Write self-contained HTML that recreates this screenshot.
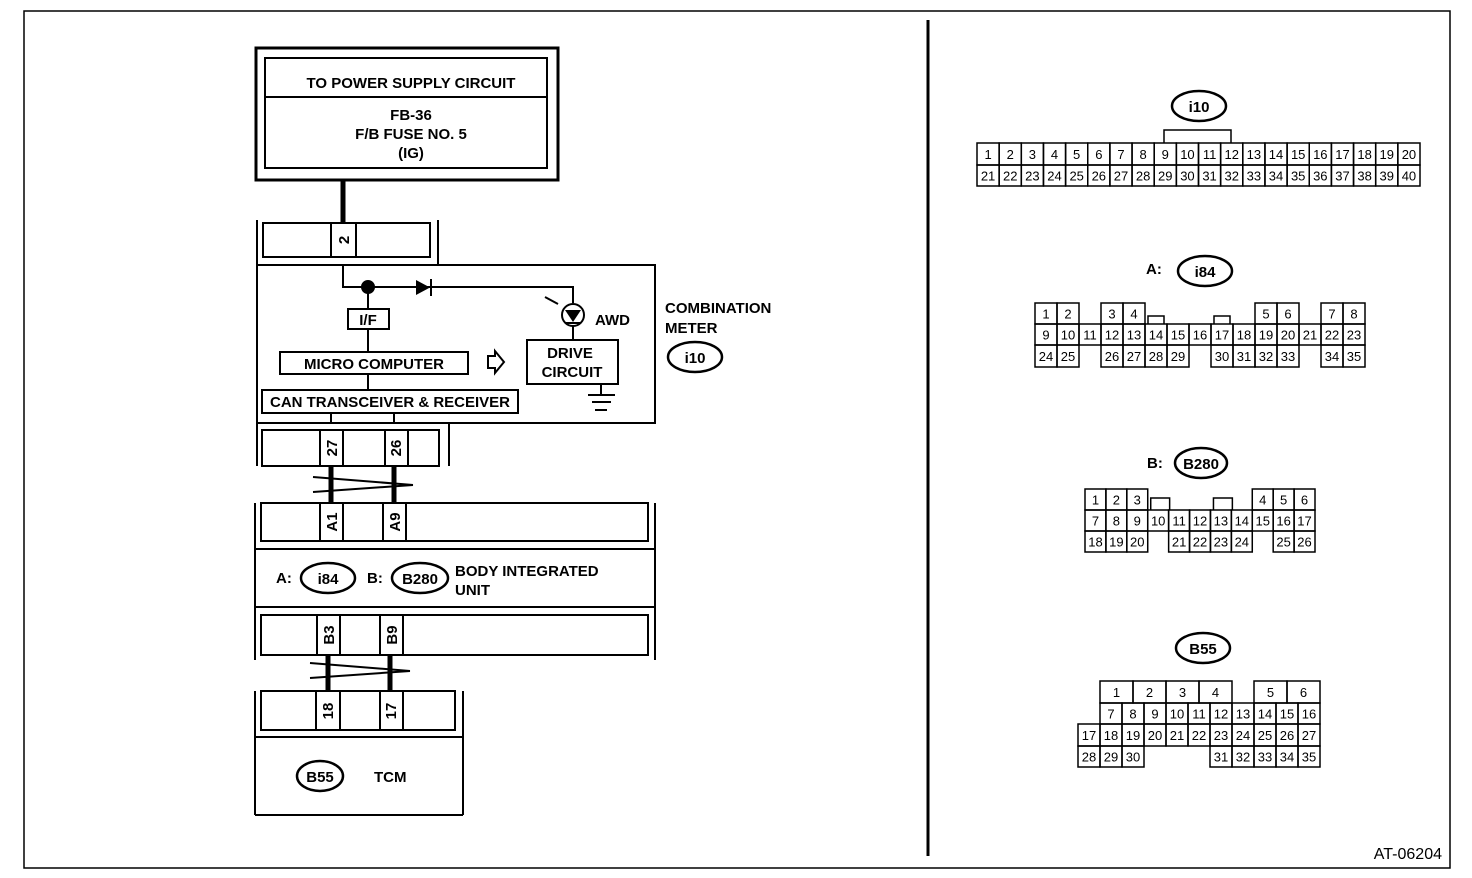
<!DOCTYPE html>
<html><head><meta charset="utf-8"><style>
html,body{margin:0;padding:0;background:#fff}
svg{display:block}
text{font-family:"Liberation Sans",Arial,sans-serif;fill:#000}
.b{font-weight:bold;font-size:15px}
.n{font-size:13px}
</style></head><body>
<svg id="s" width="1472" height="878" viewBox="0 0 1472 878" xmlns="http://www.w3.org/2000/svg" fill="none" stroke="#000" stroke-width="2">
<rect x="24" y="11" width="1426" height="857" stroke-width="1.5"/>
<line x1="928" y1="20" x2="928" y2="856" stroke-width="3"/>

<!-- power box -->
<rect x="256" y="48" width="302" height="132" stroke-width="3"/>
<rect x="265" y="58" width="282" height="110"/>
<line x1="265" y1="97" x2="547" y2="97"/>
<g stroke="none" text-anchor="middle" class="b">
<text x="411" y="88" class="b">TO POWER SUPPLY CIRCUIT</text>
<text x="411" y="120" class="b">FB-36</text>
<text x="411" y="139" class="b">F/B FUSE NO. 5</text>
<text x="411" y="158" class="b">(IG)</text>
</g>
<line x1="343" y1="180" x2="343" y2="223" stroke-width="5"/>

<!-- connector 2 -->
<line x1="257" y1="220" x2="257" y2="265"/>
<line x1="438" y1="220" x2="438" y2="265"/>
<rect x="263" y="223" width="167" height="34"/>
<line x1="331" y1="223" x2="331" y2="257"/>
<line x1="356" y1="223" x2="356" y2="257"/>
<text transform="translate(349,240) rotate(-90)" text-anchor="middle" class="b" stroke="none" font-size="13">2</text>

<!-- meter box -->
<rect x="257" y="265" width="398" height="158"/>
<polyline points="343,265 343,287 573,287 573,303"/>
<circle cx="368" cy="287" r="6" fill="#000"/>
<polygon points="416,280 416,295 430,287.5" fill="#000" stroke="none"/>
<line x1="431" y1="279" x2="431" y2="296"/>
<circle cx="573" cy="315" r="11"/>
<polygon points="565,310 581,310 573,322" fill="#000" stroke="none"/>
<line x1="565" y1="323" x2="581" y2="323"/>
<line x1="545" y1="297" x2="558" y2="304" stroke-width="2"/>
<line x1="573" y1="326" x2="573" y2="340"/>
<text x="595" y="325" class="b" font-size="14" stroke="none">AWD</text>
<line x1="368" y1="287" x2="368" y2="309"/>
<rect x="348" y="309" width="41" height="20"/>
<text x="368" y="325" class="b" font-size="14" text-anchor="middle" stroke="none">I/F</text>
<line x1="368" y1="329" x2="368" y2="352"/>
<rect x="280" y="352" width="188" height="22"/>
<text x="374" y="369" class="b" text-anchor="middle" stroke="none">MICRO COMPUTER</text>
<line x1="368" y1="374" x2="368" y2="390"/>
<rect x="262" y="390" width="256" height="23"/>
<text x="390" y="407" class="b" font-size="14.5" text-anchor="middle" stroke="none">CAN TRANSCEIVER &amp; RECEIVER</text>
<line x1="331" y1="413" x2="331" y2="423"/>
<line x1="394" y1="413" x2="394" y2="423"/>
<polygon points="488,356 495,356 495,351 504,362 495,373 495,368 488,368" stroke-width="2"/>
<rect x="527" y="340" width="91" height="44"/>
<text x="570" y="358" class="b" text-anchor="middle" stroke="none">DRIVE</text>
<text x="572" y="377" class="b" text-anchor="middle" stroke="none">CIRCUIT</text>
<line x1="601" y1="384" x2="601" y2="395"/>
<line x1="588" y1="395" x2="615" y2="395"/>
<line x1="592" y1="402" x2="611" y2="402"/>
<line x1="595" y1="410" x2="607" y2="410"/>
<text x="665" y="313" class="b" stroke="none">COMBINATION</text>
<text x="665" y="333" class="b" stroke="none">METER</text>
<ellipse cx="695" cy="357" rx="27" ry="15" stroke-width="2.5"/>
<text x="695" y="363" class="b" text-anchor="middle" stroke="none">i10</text>

<!-- connector 27/26 -->
<line x1="257" y1="423" x2="257" y2="466"/>
<line x1="449" y1="423" x2="449" y2="466"/>
<rect x="262" y="430" width="177" height="36"/>
<line x1="320" y1="430" x2="320" y2="466"/><line x1="343" y1="430" x2="343" y2="466"/>
<line x1="385" y1="430" x2="385" y2="466"/><line x1="408" y1="430" x2="408" y2="466"/>
<text transform="translate(337,448) rotate(-90)" text-anchor="middle" class="b" font-size="13" stroke="none">27</text>
<text transform="translate(401,448) rotate(-90)" text-anchor="middle" class="b" font-size="13" stroke="none">26</text>
<line x1="331" y1="466" x2="331" y2="503" stroke-width="5"/>
<line x1="394" y1="466" x2="394" y2="503" stroke-width="5"/>
<line x1="313" y1="477" x2="413" y2="485"/>
<line x1="313" y1="492" x2="413" y2="485"/>

<!-- BIU -->
<line x1="255" y1="503" x2="255" y2="660"/>
<line x1="655" y1="503" x2="655" y2="660"/>
<rect x="261" y="503" width="387" height="38"/>
<line x1="320" y1="503" x2="320" y2="541"/><line x1="343" y1="503" x2="343" y2="541"/>
<line x1="383" y1="503" x2="383" y2="541"/><line x1="406" y1="503" x2="406" y2="541"/>
<text transform="translate(337,522) rotate(-90)" text-anchor="middle" class="b" font-size="13" stroke="none">A1</text>
<text transform="translate(400,522) rotate(-90)" text-anchor="middle" class="b" font-size="13" stroke="none">A9</text>
<line x1="255" y1="549" x2="655" y2="549"/>
<line x1="255" y1="607" x2="655" y2="607"/>
<text x="276" y="583" class="b" stroke="none">A:</text>
<ellipse cx="328" cy="578" rx="27" ry="15" stroke-width="2.5"/>
<text x="328" y="584" class="b" text-anchor="middle" stroke="none">i84</text>
<text x="367" y="583" class="b" stroke="none">B:</text>
<ellipse cx="420" cy="578" rx="28" ry="15" stroke-width="2.5"/>
<text x="420" y="584" class="b" text-anchor="middle" stroke="none">B280</text>
<text x="455" y="576" class="b" stroke="none">BODY INTEGRATED</text>
<text x="455" y="595" class="b" stroke="none">UNIT</text>
<rect x="261" y="615" width="387" height="40"/>
<line x1="317" y1="615" x2="317" y2="655"/><line x1="340" y1="615" x2="340" y2="655"/>
<line x1="380" y1="615" x2="380" y2="655"/><line x1="403" y1="615" x2="403" y2="655"/>
<text transform="translate(334,635) rotate(-90)" text-anchor="middle" class="b" font-size="13" stroke="none">B3</text>
<text transform="translate(397,635) rotate(-90)" text-anchor="middle" class="b" font-size="13" stroke="none">B9</text>
<line x1="328" y1="655" x2="328" y2="691" stroke-width="5"/>
<line x1="390" y1="655" x2="390" y2="691" stroke-width="5"/>
<line x1="310" y1="663" x2="410" y2="671"/>
<line x1="310" y1="678" x2="410" y2="671"/>

<!-- TCM -->
<line x1="255" y1="691" x2="255" y2="815"/>
<line x1="463" y1="691" x2="463" y2="815"/>
<line x1="255" y1="815" x2="463" y2="815"/>
<line x1="255" y1="737" x2="463" y2="737"/>
<rect x="261" y="691" width="194" height="39"/>
<line x1="316" y1="691" x2="316" y2="730"/><line x1="340" y1="691" x2="340" y2="730"/>
<line x1="380" y1="691" x2="380" y2="730"/><line x1="403" y1="691" x2="403" y2="730"/>
<text transform="translate(333,711) rotate(-90)" text-anchor="middle" class="b" font-size="13" stroke="none">18</text>
<text transform="translate(396,711) rotate(-90)" text-anchor="middle" class="b" font-size="13" stroke="none">17</text>
<ellipse cx="320" cy="776" rx="23" ry="15" stroke-width="2.5"/>
<text x="320" y="782" class="b" text-anchor="middle" stroke="none">B55</text>
<text x="374" y="782" class="b" stroke="none">TCM</text>

<!-- right labels -->
<ellipse cx="1199" cy="106" rx="27" ry="15" stroke-width="2.5"/>
<text x="1199" y="112" class="b" text-anchor="middle" stroke="none">i10</text>
<polyline points="1164,143 1164,130 1231,130 1231,143" stroke-width="1.5"/>
<text x="1146" y="274" class="b" stroke="none">A:</text>
<ellipse cx="1205" cy="271" rx="27" ry="15" stroke-width="2.5"/>
<text x="1205" y="277" class="b" text-anchor="middle" stroke="none">i84</text>
<text x="1147" y="468" class="b" stroke="none">B:</text>
<ellipse cx="1201" cy="463" rx="26" ry="15" stroke-width="2.5"/>
<text x="1201" y="469" class="b" text-anchor="middle" stroke="none">B280</text>
<ellipse cx="1203" cy="648" rx="27" ry="15" stroke-width="2.5"/>
<text x="1203" y="654" class="b" text-anchor="middle" stroke="none">B55</text>
<text x="1442" y="859" font-size="16" text-anchor="end" stroke="none">AT-06204</text>
<g id="cells" stroke-width="1.5"></g>
</svg>
<script>
var g=document.getElementById('cells'),NS='http://www.w3.org/2000/svg';
function cell(x,y,w,h,t){var r=document.createElementNS(NS,'rect');r.setAttribute('x',x);r.setAttribute('y',y);r.setAttribute('width',w);r.setAttribute('height',h);g.appendChild(r);
var tx=document.createElementNS(NS,'text');tx.setAttribute('x',x+w/2);tx.setAttribute('y',y+h/2+5);tx.setAttribute('text-anchor','middle');tx.setAttribute('stroke','none');tx.setAttribute('class','n');tx.textContent=t;g.appendChild(tx);}
function latch(x1,x2,y1,y2){var p=document.createElementNS(NS,'polyline');p.setAttribute('points',x1+','+y2+' '+x1+','+y1+' '+x2+','+y1+' '+x2+','+y2);g.appendChild(p);}
// i10
var w=(1420-977)/20;
for(var i=0;i<20;i++){cell(977+i*w,143,w,22,i+1);cell(977+i*w,165,w,21,i+21);}
// i84
w=22;var x0=1035;
[[0,1],[1,2],[3,3],[4,4],[10,5],[11,6],[13,7],[14,8]].forEach(function(c){cell(x0+c[0]*w,303,w,21,c[1]);});
for(i=0;i<15;i++)cell(x0+i*w,324,w,21,i+9);
var n=24;[0,1,3,4,5,6,8,9,10,11,13,14].forEach(function(c){cell(x0+c*w,345,w,22,n++);});
latch(x0+5*w+3,x0+6*w-3,316,324);latch(x0+8*w+3,x0+9*w-3,316,324);
// B280
w=230/11;x0=1085;
[[0,1],[1,2],[2,3],[8,4],[9,5],[10,6]].forEach(function(c){cell(x0+c[0]*w,489,w,21,c[1]);});
for(i=0;i<11;i++)cell(x0+i*w,510,w,21,i+7);
n=18;[0,1,2,4,5,6,7,9,10].forEach(function(c){cell(x0+c*w,531,w,21,n++);});
latch(x0+3*w+3,x0+4*w+1,498,510);latch(x0+6*w+3,x0+7*w+1,498,510);
// B55
w=242/11;x0=1078;
var s=33;[[1100,1],[1133,2],[1166,3],[1199,4],[1254,5],[1287,6]].forEach(function(c){cell(c[0],681,s,22,c[1]);});
for(i=1;i<11;i++)cell(x0+i*w,703,w,21,i+6);
for(i=0;i<11;i++)cell(x0+i*w,724,w,22,i+17);
n=28;[0,1,2,6,7,8,9,10].forEach(function(c){cell(x0+c*w,746,w,21,n++);});
</script>
</body></html>
